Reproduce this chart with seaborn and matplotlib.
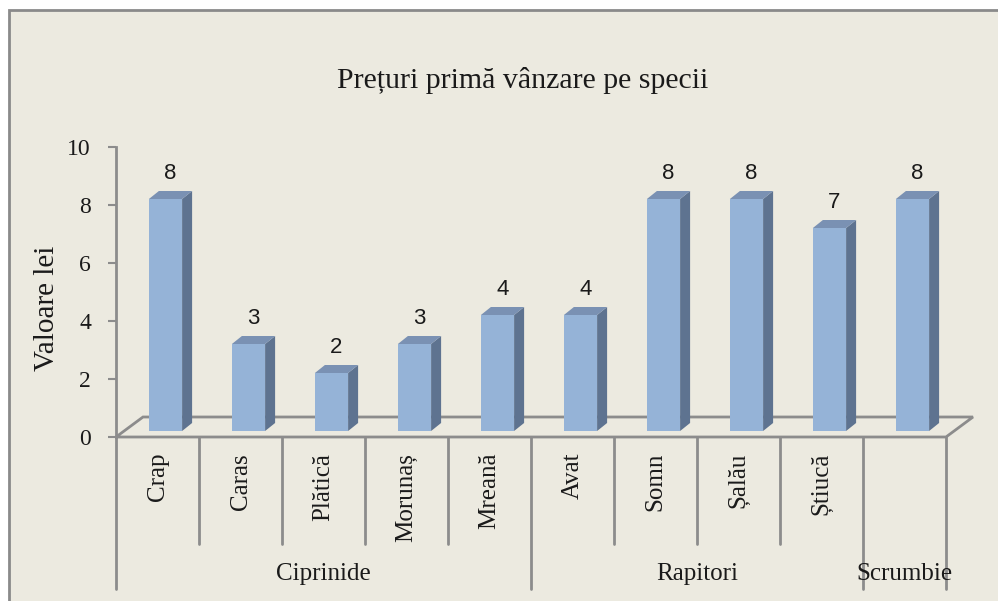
import matplotlib
matplotlib.use('Agg')
import matplotlib.pyplot as plt
from matplotlib.patches import Polygon, Rectangle
import matplotlib.transforms as mtransforms
import pandas as pd
import seaborn as sns

# chart data
species = ['Crap', 'Caras', 'Plătică', 'Morunaș', 'Mreană', 'Avat', 'Somn', 'Șalău', 'Știucă', '']
prices = [8, 3, 2, 3, 4, 4, 8, 8, 7, 8]
groups = ['Ciprinide', 'Rapitori', 'Scrumbie']
group_sizes = [5, 4, 1]
y_ticks = [0, 2, 4, 6, 8, 10]

title = 'Prețuri primă vânzare pe specii'
y_label = 'Valoare lei'

sns.set_style('white')
plt.rcParams['font.family'] = ['Liberation Serif', 'DejaVu Serif']

BG = '#ECEAE0'
GRID = '#8C8C8C'
FRONT = '#95B3D7'
SIDE = '#5E7390'
TOP = '#7A91B3'

W, H = 998, 601
fig = plt.figure(figsize=(W / 100, H / 100), dpi=100, facecolor='white')

# chart area background with border on top / left
fig.patches.append(Rectangle((9 / W, -0.05), 1.2, (H - 10) / H + 0.05, transform=fig.transFigure,
                             facecolor=BG, edgecolor='#8A8A8A', lw=2, zorder=-10))

# axes placed in pixels
ax_l, ax_r, ax_top, ax_bot = 116, 946, 147, 437
ax = fig.add_axes([ax_l / W, (H - ax_bot) / H, (ax_r - ax_l) / W, (ax_bot - ax_top) / H])
ax.set_facecolor('none')

n = len(species)
ax.set_xlim(-0.5, n - 0.5)
ax.set_ylim(0, 10)
px_x = n / (ax_r - ax_l)      # data units per pixel
px_y = 10 / (ax_bot - ax_top)

# 3d-ish offsets in pixels
bar_shift = (8 * px_x, 6 * px_y)
side = (10 * px_x, 8 * px_y)
floor = (27 * px_x, 20 * px_y)

# floor
floor_poly = Polygon([(-0.5, 0), (n - 0.5, 0), (n - 0.5 + floor[0], floor[1]), (-0.5 + floor[0], floor[1])],
                     closed=True, facecolor='none', edgecolor=GRID, lw=2, clip_on=False, zorder=1)
ax.add_patch(floor_poly)

df = pd.DataFrame({'specie': species, 'pret': prices})
sns.barplot(data=df, x='specie', y='pret', order=species, width=0.4, color=FRONT,
            saturation=1, linewidth=0, ax=ax, zorder=3)

bars = [p for p in ax.patches if isinstance(p, Rectangle)]
for p, v in zip(bars, prices):
    p.set_x(p.get_x() + bar_shift[0])
    p.set_y(bar_shift[1])
    p.set_clip_on(False)
    x0, w, h = p.get_x(), p.get_width(), p.get_height()
    y0 = p.get_y()
    ax.add_patch(Polygon([(x0 + w, y0), (x0 + w + side[0], y0 + side[1]),
                          (x0 + w + side[0], y0 + h + side[1]), (x0 + w, y0 + h)],
                         closed=True, facecolor=SIDE, edgecolor='none', clip_on=False, zorder=3))
    ax.add_patch(Polygon([(x0, y0 + h), (x0 + w, y0 + h), (x0 + w + side[0], y0 + h + side[1]),
                          (x0 + side[0], y0 + h + side[1])],
                         closed=True, facecolor=TOP, edgecolor='none', clip_on=False, zorder=3))
    ax.text(x0 + (w + side[0]) / 2, y0 + h + side[1] + 7 * px_y, str(v), ha='center', va='bottom',
            fontsize=16, family=['Liberation Sans', 'DejaVu Sans'], color='#1a1a1a', zorder=4)

# axes styling
for s in ['top', 'right', 'bottom']:
    ax.spines[s].set_visible(False)
ax.spines['left'].set_color(GRID)
ax.spines['left'].set_linewidth(2)
ax.set_yticks(y_ticks)
ax.set_yticklabels([str(t) for t in y_ticks], fontsize=17, color='#1a1a1a')
ax.tick_params(axis='y', length=6, width=1.5, color=GRID, pad=12, left=True)
ax.set_xticks(range(n))
ax.set_xticklabels(species, rotation=90, fontsize=18, color='#1a1a1a')
ax.tick_params(axis='x', length=0, pad=11.5)
ax.set_xlabel('')
ax.set_ylabel('')

# category dividers below the axis
axh = ax_bot - ax_top
trans = mtransforms.blended_transform_factory(ax.transData, ax.transAxes)
inner_end = -(544 - ax_bot) / axh
outer_end = -(589 - ax_bot) / axh
bounds = [0]
for g in group_sizes:
    bounds.append(bounds[-1] + g)
for i in range(n + 1):
    end = outer_end if i in bounds else inner_end
    ax.plot([i - 0.5, i - 0.5], [0, end], color=GRID, lw=2, transform=trans, clip_on=False, zorder=1)

for g, a, b in zip(groups, bounds[:-1], bounds[1:]):
    ax.text((a + b - 1) / 2, -(574 - ax_bot) / axh, g, ha='center', va='center', fontsize=18,
            color='#1a1a1a', transform=trans)

fig.text(523 / W, 1 - 80 / H, title, ha='center', va='center', fontsize=21.5, color='#1a1a1a')
fig.text(47 / W, 1 - 308 / H, y_label, ha='center', va='center', rotation=90, fontsize=21, color='#1a1a1a')

fig.savefig('out.png', dpi=100, facecolor='white')
